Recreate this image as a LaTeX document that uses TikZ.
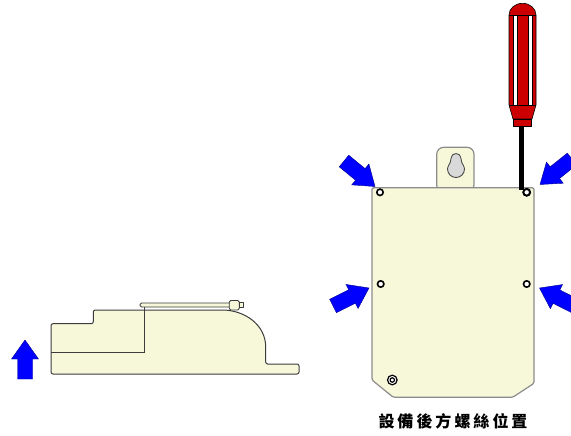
\documentclass[tikz,border=0pt]{standalone}
\usepackage{fontspec}
\newfontfamily\cjkfont{Noto Sans CJK TC}
\usetikzlibrary{calc}

\definecolor{platefill}{RGB}{247,248,218}
\definecolor{plateedge}{RGB}{140,140,140}
\definecolor{bodyedge}{RGB}{60,60,60}
\definecolor{handlered}{RGB}{204,0,0}
\definecolor{keyholegray}{RGB}{217,217,217}
\definecolor{arrowblue}{RGB}{0,0,255}

\tikzset{
  plate/.style={fill=platefill, draw=plateedge, line width=1.2pt, line join=round},
  sidebody/.style={fill=platefill, draw=bodyedge, line width=1pt, line join=round},
  screwhole/.style={fill=white, draw=black, line width=1.6pt},
  bluearrow/.style={fill=arrowblue, draw=blue!55!black, line width=0.4pt, line join=miter},
  handle/.style={fill=handlered, draw=black, line width=0.6pt, line join=round},
  caption/.style={font=\cjkfont\bfseries\fontsize{16}{16}\selectfont, inner sep=0pt},
}

% block arrow from tail #1 to tip #2
\newcommand\blockarrow[2]{%
  \path[bluearrow] (#2)
    -- ($(#2)!19pt!(#1)!13.5pt!90:(#2)$)
    -- ($(#2)!19pt!(#1)!7.5pt!90:(#2)$)
    -- ($(#1)!7.5pt!90:(#2)$)
    -- ($(#1)!7.5pt!-90:(#2)$)
    -- ($(#2)!19pt!(#1)!7.5pt!-90:(#2)$)
    -- ($(#2)!19pt!(#1)!13.5pt!-90:(#2)$)
    -- cycle;}

\begin{document}
\begin{tikzpicture}[x=1pt,y=-1pt]
  \clip (0,0) rectangle (571,436);
  \fill[white] (0,0) rectangle (571,436);

  % ---- side view ----
  \path[sidebody, rounded corners=2pt] (51,374) -- (51,323.7) -- (93.3,323.7) -- (93.3,310)
    -- (220,310) [rounded corners=0pt] .. controls (245,310) and (265.7,325) .. (265.7,347)
    [rounded corners=2pt] -- (265.7,364) -- (299,364) -- (299,374) -- cycle;
  \draw[bodyedge, line width=1pt] (51,352) -- (144,352) -- (144,306.7);
  \path[sidebody, line width=0.8pt, rounded corners=1.5pt] (140,303) rectangle (231,307);
  \path[sidebody, line width=0.8pt, rounded corners=1.5pt] (229.3,310) -- (229.3,300.5) -- (239.3,300.5) -- (239.3,310) -- cycle;
  \path[sidebody, line width=0.6pt] (239.3,302.7) rectangle (243,307);

  % lifting arrow
  \coordinate (upTail) at (25,379);
  \coordinate (upTip) at (25,340);
  \blockarrow{upTail}{upTip}

  % ---- front view ----
  \path[plate, rounded corners=7pt] (436.7,192) -- (436.7,147.3) -- (474,147.3) -- (474,192) -- cycle;
  \path[fill=keyholegray, draw=bodyedge, line width=0.8pt]
    (456,177.5) .. controls (451.3,177.5) and (447.5,173.7) .. (447.5,169)
    .. controls (447.5,165.5) and (451,163.5) .. (451,158.5)
    .. controls (451,155.7) and (453.2,153.5) .. (456,153.5)
    .. controls (458.8,153.5) and (461,155.7) .. (461,158.5)
    .. controls (461,163.5) and (464.5,165.5) .. (464.5,169)
    .. controls (464.5,173.7) and (460.7,177.5) .. (456,177.5) -- cycle;
  \path[plate, rounded corners=1.5pt] (372,380) -- (372,187.7) -- (534,187.7) -- (534,383.3)
    -- (512.7,397.3) -- (393.3,397.3) -- cycle;

  \path[screwhole] (380,192.3) circle[radius=3.2];
  \path[screwhole] (380.7,284) circle[radius=3.2];
  \path[screwhole] (526.7,284) circle[radius=3.2];
  \path[fill=white, draw=black, line width=1.2pt] (392.3,380) circle[radius=4.8];
  \path[draw=black, line width=1.2pt] (392.3,380) circle[radius=2.2];

  % ---- screwdriver ----
  \fill[black] (519.3,124) rectangle (523.5,190);
  \path[screwhole, line width=2pt] (526.7,192.3) circle[radius=3.4];
  \path[handle] (513,119) -- (509,105) -- (509,15)
    .. controls (509,8.6) and (515,3.3) .. (522.5,3.3)
    .. controls (530,3.3) and (536,8.6) .. (536,15)
    -- (536,105) -- (532,119) -- cycle;
  \path[handle] (513.5,119) rectangle (531.5,126);
  \path[fill=white, draw=black, line width=0.6pt] (513,15) rectangle (517,105);
  \path[fill=white, draw=black, line width=0.6pt] (528,15) rectangle (532,105);
  \draw[black, line width=0.6pt] (509,15) -- (536,15);
  \draw[black, line width=0.6pt] (509,105) -- (536,105);

  % pointer arrows at the four screws
  \coordinate (tlTail) at (344,161);   \coordinate (tlTip) at (375,186.5);
  \coordinate (trTail) at (572,159);   \coordinate (trTip) at (540,184.5);
  \coordinate (mlTail) at (333,306);   \coordinate (mlTip) at (369,288);
  \coordinate (mrTail) at (575,306);   \coordinate (mrTip) at (539.5,288);
  \blockarrow{tlTail}{tlTip}
  \blockarrow{trTail}{trTip}
  \blockarrow{mlTail}{mlTip}
  \blockarrow{mrTail}{mrTip}

  \node[caption] (label) at (453,421) {設\kern3pt 備\kern3pt 後\kern3pt 方\kern3pt 螺\kern3pt 絲\kern3pt 位\kern3pt 置};
\end{tikzpicture}
\end{document}
